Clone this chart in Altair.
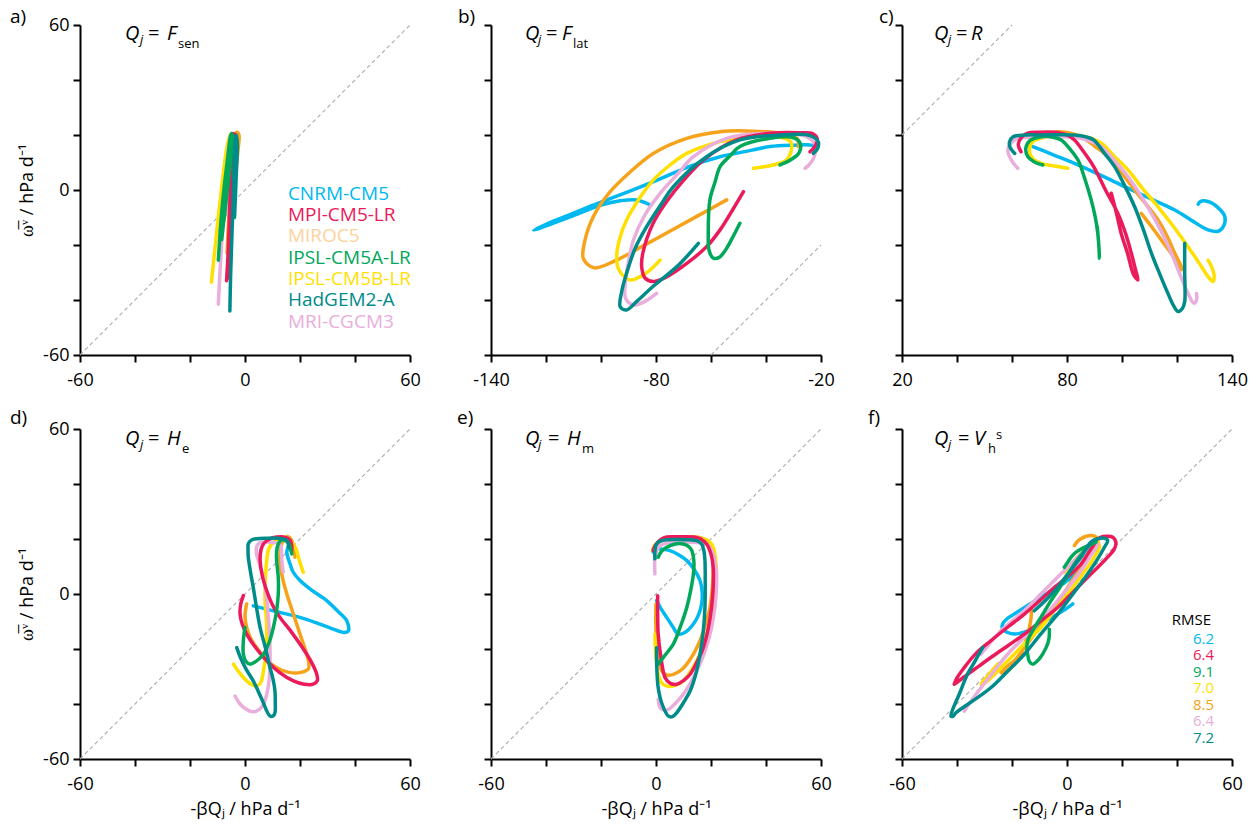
import json
import altair as alt
import pandas as pd

FONT = "Open Sans"

MODELS = ["CNRM-CM5", "MPI-CM5-LR", "MIROC5", "IPSL-CM5A-LR", "IPSL-CM5B-LR", "HadGEM2-A", "MRI-CGCM3"]
LINE_COLORS = {"CNRM-CM5": "#00B9F1", "MPI-CM5-LR": "#EB1B5B", "MIROC5": "#F7A21B",
               "IPSL-CM5A-LR": "#00A859", "IPSL-CM5B-LR": "#FFE000", "HadGEM2-A": "#008B8B",
               "MRI-CGCM3": "#E9AEDB"}
LEGEND_COLORS = ["#00B9F1", "#EB1B5B", "#FDD29A", "#00A859", "#FFE000", "#008B8B", "#E9AEDB"]
DRAW_ORDER = ["CNRM-CM5", "MIROC5", "IPSL-CM5B-LR", "MRI-CGCM3", "MPI-CM5-LR", "IPSL-CM5A-LR", "HadGEM2-A"]
RMSE_VALUES = ["6.2", "6.4", "9.1", "7.0", "8.5", "6.4", "7.2"]
RMSE_COLORS = ["#00B9F1", "#EB1B5B", "#00A859", "#FFE000", "#F7A21B", "#E9AEDB", "#008B8B"]

# ---------------- panel a: Q_j = F_sen ----------------
A_CURVES = {
    "CNRM-CM5": [(-9.5, -14.5), (-8, -5), (-6.5, 5), (-5, 15), (-4, 20), (-3.5, 18), (-4.5, 8), (-6, -3), (-8, -12)],
    "MIROC5": [(-6.5, -23), (-6, -12), (-5, 2), (-4, 14), (-3, 21), (-2.2, 20), (-2.5, 15), (-3.5, 5), (-5, -10)],
    "IPSL-CM5B-LR": [(-12.2, -33.5), (-11, -22), (-9.5, -8), (-8, 5), (-6.5, 16), (-5.2, 20.5), (-4.5, 19), (-5.5, 10), (-7, -3), (-9, -16)],
    "MRI-CGCM3": [(-9.7, -41.5), (-9, -28), (-8, -12), (-7, 2), (-6, 15), (-5, 20.5), (-4.5, 19), (-5.5, 8), (-7, -8)],
    "MPI-CM5-LR": [(-6.7, -33), (-6, -20), (-5.5, -5), (-5, 10), (-4.5, 20.5), (-3.5, 20), (-4, 8), (-4.8, -10), (-5.5, -25), (-6.2, -32)],
    "IPSL-CM5A-LR": [(-9.7, -25.5), (-9, -15), (-8, -3), (-6.5, 10), (-5, 20.5), (-4.5, 19), (-5.5, 8), (-7, -5), (-8.5, -18)],
    "HadGEM2-A": [(-5.5, -44), (-5.2, -30), (-4.6, -12), (-4.1, 5), (-3.6, 17), (-3.2, 20), (-2.8, 17), (-3.2, 5), (-3.8, -10)],
}

# ---------------- panel b: Q_j = F_lat ----------------
B_CURVES = {
    "CNRM-CM5": [(-82, -5.5), (-87, -3.6), (-93, -3.9), (-100, -5.5), (-110, -9.3), (-118, -12.3), (-124.5, -14.6),
                 (-119, -12), (-110, -8.4), (-100, -4.4), (-90, -0.6), (-80, 3.4), (-68, 8.5), (-56.7, 12.1),
                 (-45, 14.5), (-38.5, 15.8), (-30, 16.3), (-24, 16.4), (-21.5, 15.6), (-22.5, 14.3)],
    "MIROC5": [(-54.3, -3.6), (-65, -9.5), (-75, -15), (-85, -20.5), (-95, -25.8), (-102.5, -28.3), (-106.4, -25),
               (-106, -19), (-102.8, -9.7), (-97, -1), (-90, 6), (-81, 13.3), (-68.8, 18.8), (-56.7, 21.2),
               (-44.6, 21.4), (-32.5, 20.3), (-28.5, 18.5), (-28.2, 15.8)],
    "IPSL-CM5B-LR": [(-78.5, -25.5), (-84, -30.5), (-89.5, -32.7), (-93.5, -29), (-94.3, -24), (-93, -17),
                     (-90.7, -10.9), (-86, -3), (-81, 3.6), (-75, 9), (-68.8, 13.3), (-56.7, 17.6), (-44.6, 19.4),
                     (-34, 19), (-31, 17.5), (-30.7, 15), (-32.5, 11), (-37, 9.2), (-44.6, 7.9)],
    "MRI-CGCM3": [(-79.8, -37.6), (-84, -40.5), (-88.2, -41.8), (-91, -39.5), (-91.3, -35), (-90, -26),
                  (-88.2, -18.2), (-84, -9), (-78.5, -1.2), (-72, 6), (-66.4, 12.1), (-54.3, 18.8), (-38.5, 20.6),
                  (-25.2, 19.4), (-22.2, 16.5), (-22.5, 12), (-24.5, 9), (-25.8, 7.9)],
    "MPI-CM5-LR": [(-48.2, -0.6), (-52, -7), (-56.7, -14.5), (-61.6, -20.6), (-68.8, -26.7), (-76, -31.5),
                   (-81, -33.3), (-84, -32), (-85.2, -28), (-84.8, -23), (-81, -12), (-76, -4), (-70, 3.5),
                   (-62.8, 10.9), (-50.7, 18.2), (-38.5, 20.6), (-28, 20.8), (-22.8, 20.4), (-21.3, 18.3),
                   (-22.5, 15.5), (-24, 13.9)],
    "IPSL-CM5A-LR": [(-49.5, -12.1), (-52, -17), (-54.5, -21.5), (-57, -24.5), (-59.1, -24.8), (-60.7, -22),
                     (-61, -16), (-60.4, -3.6), (-58.5, 3), (-56.7, 8.5), (-53, 12.5), (-49.5, 15.8),
                     (-38.5, 18.8), (-30, 19), (-27.6, 17), (-28, 13.5), (-31, 11), (-34.9, 9.1)],
    "HadGEM2-A": [(-64.6, -19.4), (-72, -27.5), (-81, -35), (-87, -40.5), (-90.7, -43.6), (-93, -42.5),
                  (-92.5, -37), (-90.7, -30.3), (-87.5, -21), (-83.4, -13.3), (-78, -5), (-73.7, 1.2),
                  (-61.6, 12.1), (-49.5, 18.2), (-34.9, 20), (-24, 19.8), (-21, 17.5), (-21.3, 15), (-22.8, 13.3)],
}

# ---------------- panel c: Q_j = R ----------------
C_CURVES = {
    "CNRM-CM5": [(67.6, 15.8), (75, 12.8), (82.7, 9.7), (92, 5.5), (101, 1.2), (110, -3), (119.2, -7.3),
                 (126, -11.5), (131.3, -14.5), (135, -15), (137, -13), (137.4, -9.7), (135, -6.5),
                 (131.3, -4.2), (128.5, -4.2), (127.7, -5.2)],
    "MIROC5": [(66.4, 15.8), (67, 18), (70.6, 19.8), (76.7, 21.2), (82, 20.5), (85.2, 19.4), (90, 16),
               (94.9, 12.1), (100, 6), (104.6, 0), (109, -5.5), (113.1, -10.9), (116.5, -17), (119.2, -23),
               (121.4, -27.5), (121.6, -29), (120.4, -27), (117.5, -22.5), (114.3, -18.2), (110.5, -13), (107, -8.5)],
    "IPSL-CM5B-LR": [(80.3, 7.9), (75, 8.8), (70.6, 9.7), (67.5, 11.5), (66.4, 14), (67.6, 17.6), (73, 19.4),
                     (82.7, 20), (88, 19), (92.5, 17), (97, 12.5), (102.2, 7.3), (107.5, 0.5), (113.1, -6.1),
                     (118.5, -13), (124, -20.6), (128, -26.5), (131.3, -31.5), (133.1, -33.3), (133.5, -31),
                     (132.4, -27.5), (131.3, -25.5)],
    "MRI-CGCM3": [(62.1, 7.9), (60, 10.5), (58.5, 14.5), (60.9, 18.2), (66, 19.2), (70.6, 19.3), (82.7, 19.2),
                  (88, 18), (92.5, 15.8), (97.5, 10.5), (102.2, 4.8), (106.5, -1.5), (110.7, -8.5),
                  (114.5, -15.5), (118, -23), (121, -30.5), (124, -37.6), (126.2, -41.2), (127.1, -40),
                  (127.1, -37.6)],
    "MPI-CM5-LR": [(63.3, 13.9), (62.3, 16.5), (63.5, 19.2), (65.5, 20.6), (70, 21), (75.5, 21), (80, 20),
                   (82.7, 18.2), (86, 14), (89.7, 8.5), (94, 0), (98.5, -8.5), (101.2, -15.5), (103.4, -23),
                   (104.8, -28.5), (105.8, -32.7), (105, -32), (104, -30.3), (102, -23), (99.7, -15.8),
                   (98, -8.5), (96.1, -1.2)],
    "IPSL-CM5A-LR": [(71.2, 9.1), (68, 10.3), (65.8, 12.1), (65, 15), (66.5, 18), (70.6, 19.4), (74.5, 19.3),
                     (77.9, 18.2), (81, 15), (84, 10.9), (86.5, 4), (88.8, -3.6), (90.3, -10), (91.2, -15.8),
                     (91.6, -20.5), (91.8, -24.8), (91.5, -19), (91, -13.3)],
    "HadGEM2-A": [(61, 13.3), (59.3, 15.5), (59.1, 17.5), (60.4, 19.4), (65, 20), (70.6, 20), (82.7, 20),
                  (87, 19.3), (89.7, 18.2), (93.5, 13.5), (97.3, 8.5), (101, 1.5), (104.6, -6.1),
                  (107.8, -14.5), (110.7, -23), (113.7, -30.5), (116.7, -37.6), (119, -42.5), (120.4, -44.2),
                  (122, -43), (122.8, -40.6), (122.9, -35), (122.8, -30.3), (122.8, -19.4)],
}

# ---------------- panel d: Q_j = H_e ----------------
D_CURVES = {
    "CNRM-CM5": [(3, -4.3), (11, -6.3), (20, -8.5), (26, -10.5), (32.1, -12.8), (36, -14), (37.6, -13.4),
                 (37, -9.7), (34, -6.5), (29.7, -2.4), (24.5, 1.2), (20, 4.9), (17.5, 8), (16.4, 10.9),
                 (15.2, 15.2), (15.7, 17), (16.4, 18.2)],
    "MIROC5": [(0.6, -3.6), (0, -8), (0.6, -12.2), (2, -16), (4.2, -19.5), (7.5, -23.5), (11.5, -26.8),
               (16, -28.5), (20, -28.6), (23, -27.3), (23.2, -25), (22, -20.5), (20, -14.6), (17.5, -7),
               (15.2, 0), (13.5, 6.5), (12.7, 12.2), (13, 17), (13.9, 19.5), (15.2, 20.9), (16.8, 19.8),
               (17.6, 17), (18.2, 13.4)],
    "IPSL-CM5B-LR": [(-4.2, -25.5), (-2, -28.7), (0.6, -31.6), (2.5, -33), (4.2, -33.5), (5.8, -32), (6.7, -28),
                     (7.5, -23), (7.9, -17), (7.8, -10), (7.3, -2.4), (7.4, 5), (7.9, 12.2), (8.5, 16),
                     (9.7, 18.2), (11.5, 19.3), (13.9, 19.5), (16, 19.2), (17.6, 18.2), (18.8, 15.8),
                     (19.4, 13.4), (20.3, 10.5), (21.2, 7.9)],
    "MRI-CGCM3": [(-3.6, -37.1), (-1.8, -40), (0.6, -42), (2.5, -42.8), (4.2, -42.6), (6.5, -40.5), (7.9, -36.5),
                  (8.8, -31), (9.1, -24.3), (9, -16), (8.5, -8.5), (7.8, -1), (6.7, 6.1), (5.3, 10.8),
                  (4.2, 14.6), (4.2, 17), (4.8, 18.2), (6, 18.8), (7.9, 18.9), (10.5, 18.7), (12.7, 18.2),
                  (13.2, 16.5), (13.3, 14.6), (13.5, 11), (13.9, 7.9)],
    "MPI-CM5-LR": [(-0.6, -0.6), (-1.6, -4), (-1.8, -7.3), (-1, -11), (0.6, -14.6), (3.5, -19), (7.9, -24.3),
                   (12.5, -28.5), (17.6, -31.6), (21.5, -32.8), (24.8, -32.8), (26.3, -31.5), (26.1, -29.2),
                   (24, -24.5), (20, -18.2), (16.5, -13.3), (12.7, -8.5), (10, -4), (7.9, 1.2), (6.2, 7),
                   (5.5, 12.2), (5.8, 16), (6.7, 18.2), (9, 20), (11.5, 20.7), (14, 20.7), (16.4, 19.5),
                   (17, 17.5), (17, 15.8)],
    "IPSL-CM5A-LR": [(0, -12.2), (-0.6, -17), (-0.6, -21.9), (0.3, -24.5), (1.8, -25.5), (4, -24.5), (6.7, -21.9),
                     (8.8, -17.5), (10.3, -12.2), (11.5, -6), (12.1, 0), (12.1, 6), (11.5, 12.2), (11.5, 15.5),
                     (12.1, 18.2), (13.2, 19.6), (14.5, 19.5), (16, 18.3), (16.4, 17), (17, 14.6)],
    "HadGEM2-A": [(-3, -19.5), (-1.5, -23.5), (0.5, -27.5), (3, -31.6), (6, -38), (9.1, -44.4), (10.3, -44.3),
                  (10.9, -43.2), (11, -39), (10.9, -35.3), (10.2, -31), (9.1, -26.8), (7.4, -19.5), (5.5, -12.2),
                  (4.2, -5), (3, 2.4), (2, 8), (1.2, 13.4), (1.1, 16.5), (1.2, 18.2), (2.3, 19.6), (4.2, 20.1),
                  (8, 20.3), (11.5, 20.3), (13.8, 20), (15.2, 19.5), (15.7, 18.3), (15.8, 17)],
}

# ---------------- panel e: Q_j = H_m ----------------
E_CURVES = {
    "CNRM-CM5": [(0.2, -2.4), (1.8, -5.3), (3.9, -8.5), (6, -11.7), (8.1, -14.6), (10.5, -14), (13.6, -10.9),
                 (15.5, -7.5), (16.6, -3.6), (16.8, 0.5), (16, 4.9), (14, 8.7), (11.2, 12.2), (8.2, 14.3),
                 (5.1, 15.8), (2.5, 16.3), (0.2, 16.4), (-1, 15.2)],
    "MIROC5": [(0, -3.6), (-0.1, -10), (0.2, -17), (0.9, -23), (2.1, -28), (4, -29.5), (6.3, -29.2), (9, -27.8),
               (11.2, -25.5), (13.8, -21.5), (16, -17), (18, -11), (19.6, -4.9), (20.5, 2.5), (20.8, 9.7),
               (20.5, 14.5), (19.6, 18.2), (17.5, 20), (14.8, 20.7), (10, 20.8), (5.1, 20.7), (2.3, 19.8),
               (0.2, 18.2), (-0.8, 17), (-1.2, 15.8)],
    "IPSL-CM5B-LR": [(-0.4, -14.6), (-0.1, -22), (0.8, -29.2), (2, -32.2), (3.9, -33.5), (7, -33.2), (9.9, -31.6),
                     (13, -27.5), (16, -21.9), (18.3, -15), (20.2, -7.3), (21.4, 0), (22, 7.3), (21.7, 12.5),
                     (20.8, 17), (19.2, 19.2), (17.2, 20.1), (12, 20.4), (6.3, 20.4), (3, 19.8), (0.8, 18.9),
                     (-0.3, 17.8), (-1, 16.4)],
    "MRI-CGCM3": [(-0.4, 7.3), (-0.5, 10.5), (-0.4, 13.4), (0.3, 15.8), (1.5, 17.6), (4.5, 18.6), (8.7, 18.9),
                  (13.5, 18.8), (18.4, 18.2), (20.3, 15.8), (21.4, 12.2), (22, 7.5), (22, 2.4), (21.4, -5),
                  (20.2, -12.2), (18.4, -19), (16, -25.5), (13, -31.5), (9.9, -36.5), (7, -39.8), (4.5, -42),
                  (2.7, -42.2), (1.5, -41.4), (0.8, -38.3)],
    "MPI-CM5-LR": [(0.6, -0.6), (0.6, -7), (0.8, -14.6), (1.8, -23), (3.3, -30.4), (5.2, -32.5), (7.5, -32.8),
                   (10, -31.5), (12.4, -29.2), (15, -24.5), (17.2, -19.5), (19, -12.5), (20.2, -4.9),
                   (20.8, 2.5), (20.8, 9.7), (20, 14.5), (18.4, 18.2), (16.3, 20), (13.6, 20.7), (8.5, 20.8),
                   (3.9, 20.7), (1.8, 19.8), (0.2, 18.2), (-0.6, 17), (-1, 15.8)],
    "IPSL-CM5A-LR": [(0.8, -25.5), (3.5, -22), (6.3, -18.2), (9, -11.5), (11.2, -4.9), (12.6, 1.2), (13.6, 7.3),
                     (13.8, 11.5), (13, 15.8), (11.8, 17.3), (9.9, 18.2), (7, 18.2), (3.9, 17), (2, 15.5),
                     (0.8, 13.4)],
    "HadGEM2-A": [(0.2, -19.5), (0.3, -27), (0.8, -34.1), (2.2, -40), (4.5, -44.4), (6, -44.6), (7.5, -43.2),
                  (10, -39.5), (12.4, -35.3), (14.5, -29), (16, -21.9), (17.2, -13.5), (17.8, -4.9), (17.9, 4),
                  (17.8, 12.2), (17.4, 15.8), (16.6, 18.2), (14.8, 19.4), (12.4, 19.7), (8, 19.8), (3.9, 19.7),
                  (1.6, 19.2), (0.2, 18.2), (-0.4, 15.5), (-0.4, 12.8)],
}

# ---------------- panel f: Q_j = V_h^s ----------------
F_CURVES = {
    "CNRM-CM5": [(2.1, -3.6), (-0.5, -5.5), (-3.4, -7.3), (-9, -10.5), (-14.3, -13.4), (-18.5, -14.5),
                 (-21.6, -14), (-23.5, -12.5), (-23.4, -10.9), (-21.8, -9), (-19.2, -7.3), (-14.5, -4.3),
                 (-9.5, -1.2), (-4.5, 1.8), (0.2, 4.9), (3.5, 8.5), (6.3, 12.2), (7.8, 15), (8.7, 17)],
    "MIROC5": [(-13.1, -3.6), (-13, -8), (-13.7, -12.2), (-15, -17), (-16.7, -21.9), (-19, -25.5), (-21.6, -28),
               (-23, -28.7), (-24, -28.6), (-22, -26.5), (-19.2, -24.3), (-15.5, -19.5), (-11.9, -14.6),
               (-8.2, -9.8), (-4.6, -4.9), (-1, 0.5), (2.7, 6.1), (5.8, 10.4), (8.7, 14.6), (10.3, 17.2),
               (11.2, 19.5), (10.5, 20.8), (8.7, 21.3), (7, 21), (5.1, 20.1), (3.7, 19), (2.7, 17.6)],
    "IPSL-CM5B-LR": [(-25.2, -25.5), (-28.3, -29.2), (-31.3, -32.8), (-30.5, -32.5), (-28.9, -31.6), (-24, -26.8),
                     (-19.2, -21.9), (-14.4, -17), (-9.5, -12.2), (-4.7, -6.1), (0.2, 0), (4, 5), (7.5, 9.7),
                     (10, 13.5), (11.8, 17), (11.6, 18.3), (11.2, 18.9), (9.5, 18.3), (7.5, 17), (5, 14.6),
                     (2.7, 12.2), (0.8, 10), (-1, 7.9)],
    "MRI-CGCM3": [(-37.4, -42.6), (-34.4, -38.3), (-31.3, -34.1), (-26.5, -28), (-21.6, -21.9), (-16.8, -17),
                  (-11.9, -12.2), (-7.6, -7.3), (-3.4, -2.4), (1, 3.1), (5.1, 8.5), (8.3, 13.5), (11.2, 18.2),
                  (10.6, 18.7), (9.9, 18.9), (7.5, 16.8), (5.1, 14.6), (0.3, 9.8), (-4.6, 4.9), (-9.5, 0),
                  (-14.3, -4.9), (-19.2, -9.2), (-24, -13.4), (-27.7, -17.5), (-31.3, -21.9)],
    "MPI-CM5-LR": [(-41, -32.8), (-38.5, -31), (-36.2, -29.2), (-32, -26.2), (-27.7, -23.1), (-21.5, -18.8),
                   (-15.5, -14.6), (-9.5, -9.8), (-3.4, -4.9), (2, 0.5), (7.5, 6.1), (11.5, 10), (14.8, 13.4),
                   (17, 16), (17.8, 18.2), (17.3, 20), (16, 20.9), (14, 21), (12.4, 20.7), (10.5, 19.5),
                   (9.9, 18.2), (7.5, 14.5), (5.1, 10.9), (0.5, 6.5), (-4.6, 2.4), (-10, -2.5), (-15.5, -7.3),
                   (-21.5, -12), (-27.7, -17), (-33, -21.5), (-37.4, -26.8), (-40, -30.5), (-41, -32.8)],
    "IPSL-CM5A-LR": [(-6.4, -12.8), (-6.6, -16.5), (-7.6, -19.5), (-10, -23.5), (-12.5, -25.5), (-13.7, -24.5),
                     (-14.3, -21.9), (-14.6, -19.5), (-14.3, -17), (-12, -12.5), (-9.5, -8.5), (-6.5, -3.5),
                     (-3.4, 1.2), (-0.3, 6), (2.7, 10.9), (5.2, 14.3), (7.5, 17), (9, 18.2), (10.6, 18.9),
                     (8, 17.8), (5.1, 16.4), (3, 15), (1.5, 13.4), (0.2, 11.5), (-1, 9.7)],
    "HadGEM2-A": [(-30.7, -19.5), (-33.5, -24.5), (-36.2, -29.2), (-39, -36), (-42.2, -44.4), (-41.5, -44.5),
                  (-40.4, -43.2), (-34, -38.7), (-27.7, -34.1), (-21.5, -28), (-15.5, -21.9), (-9.5, -14.5),
                  (-3.4, -7.3), (2, -0.2), (7.5, 7.3), (11, 12.5), (13.6, 17), (14.8, 19.5), (13.5, 20.3),
                  (11.2, 20.1), (8.7, 18.9), (5.1, 13.4), (0.8, 8), (-3.4, 2.4), (-7.5, -2), (-11.9, -6.1)],
}

Y_TITLE = "\u03c9\u0305\u1d5b / hPa d\u207b\u00b9"
X_TITLE = "-\u03b2Q\u2c7c / hPa d\u207b\u00b9"

W = 330
H = 330


def make_axis(values, labelled, title, label_pad, title_pad):
    kw = dict(values=values, domainColor="black", domainWidth=2, tickColor="black", tickWidth=2,
              tickSize=7, grid=False, labelFont=FONT, labelFontSize=18, labelColor="black",
              labelFlush=False, labelOverlap=False, labelPadding=label_pad, titleFont=FONT, titleFontSize=18,
              titleColor="black", titleFontWeight="normal", titlePadding=title_pad, title=title)
    if labelled:
        kw["labelExpr"] = "indexof(%s, datum.value) >= 0 ? '' + datum.value : ''" % json.dumps(labelled)
    else:
        kw["labels"] = False
    return alt.Axis(**kw)


def text_layer(txt, px, py, size, italic=False, color="black", align="left", baseline="alphabetic"):
    kw = dict(text=txt, font=FONT, fontSize=size, color=color, align=align, baseline=baseline)
    if italic:
        kw["fontStyle"] = "italic"
    return alt.Chart(pd.DataFrame({"k": [0]})).mark_text(**kw).encode(x=alt.value(px), y=alt.value(py))


def panel(curves, xdom, xlabels, ylabels, xtitle, ytitle, label, label_pos, title_parts, extras=()):
    rows = []
    for m, pts in curves.items():
        for i, (x, y) in enumerate(pts):
            rows.append({"model": m, "i": i, "x": x, "y": y})
    df = pd.DataFrame(rows)
    xs = alt.Scale(domain=xdom, nice=False, zero=False)
    ys = alt.Scale(domain=[-60, 60], nice=False, zero=False)
    xaxis = make_axis(list(range(xdom[0], xdom[1] + 1, 20)), xlabels, xtitle, 9, 7)
    yaxis = make_axis(list(range(-60, 61, 20)), ylabels, ytitle, 4, 6)

    lo = max(xdom[0], -60)
    hi = min(xdom[1], 60)
    diag_df = pd.DataFrame({"x": [lo, hi], "y": [lo, hi]})
    diag = alt.Chart(diag_df).mark_line(color="#ababab", strokeWidth=1.1, strokeDash=[4, 3]).encode(
        x=alt.X("x:Q", scale=xs, axis=xaxis), y=alt.Y("y:Q", scale=ys, axis=yaxis))
    layers = [diag]
    for m in DRAW_ORDER:
        layers.append(
            alt.Chart(df).transform_filter(alt.datum.model == m).mark_line(
                color=LINE_COLORS[m], strokeWidth=3.5, interpolate="catmull-rom",
                strokeCap="round", strokeJoin="round").encode(
                x=alt.X("x:Q", scale=xs), y=alt.Y("y:Q", scale=ys), order="i:Q"))
    layers.append(text_layer(label, label_pos[0], label_pos[1], 19, baseline="middle"))
    for (t, px, py, size, it) in title_parts:
        layers.append(text_layer(t, px, py, size, italic=it))
    layers.extend(extras)
    return alt.layer(*layers).properties(width=W, height=H)


# legend (panel a)
leg_df = pd.DataFrame({"model": MODELS, "i": list(range(len(MODELS)))})
legend_a = alt.Chart(leg_df).transform_calculate(
    ly="-1.4 - datum.i * 7.75", lx="15.6").mark_text(
    font=FONT, fontSize=19, align="left", baseline="middle").encode(
    x=alt.X("lx:Q"), y=alt.Y("ly:Q"),
    text="model:N",
    color=alt.Color("model:N", scale=alt.Scale(domain=MODELS, range=LEGEND_COLORS), legend=None))

# RMSE (panel f)
rm_df = pd.DataFrame({"v": RMSE_VALUES, "i": list(range(len(RMSE_VALUES))), "c": RMSE_COLORS})
rmse_vals = alt.Chart(rm_df).transform_calculate(
    ly="-16.2 - datum.i * 6.0", lx="53.5").mark_text(
    font=FONT, fontSize=15, align="right", baseline="middle").encode(
    x=alt.X("lx:Q"), y=alt.Y("ly:Q"), text="v:N",
    color=alt.Color("c:N", scale=None, legend=None))
rmse_head = alt.Chart(pd.DataFrame({"t": ["RMSE"], "lx": [52.4], "ly": [-9.6]})).mark_text(
    font=FONT, fontSize=15, align="right", baseline="middle", color="black").encode(
    x=alt.X("lx:Q"), y=alt.Y("ly:Q"), text="t:N")

TA = [("Q", 45, 15, 20, True), ("j", 60, 19, 13, True), ("=", 68, 15, 20, False),
      ("F", 87, 15, 20, True), ("sen", 98, 23, 13, False)]
TB = [("Q", 34, 15, 20, True), ("j", 47, 19, 13, True), ("=", 55, 15, 20, False),
      ("F", 71, 15, 20, True), ("lat", 82, 23, 13, False)]
TC = [("Q", 32, 15, 20, True), ("j", 46, 19, 13, True), ("=", 54, 15, 20, False),
      ("R", 69, 15, 20, True)]
TD = [("Q", 45, 16, 20, True), ("j", 60, 20, 13, True), ("=", 68, 16, 20, False),
      ("H", 87, 16, 20, True), ("e", 102, 24, 13, False)]
TE = [("Q", 34, 16, 20, True), ("j", 47, 20, 13, True), ("=", 57, 16, 20, False),
      ("H", 76, 16, 20, True), ("m", 91, 24, 13, False)]
TF = [("Q", 32, 16, 20, True), ("j", 46, 20, 13, True), ("=", 56, 16, 20, False),
      ("V", 72, 16, 20, True), ("h", 86, 24, 13, False), ("s", 94, 10, 13, False)]

pa = panel(A_CURVES, [-60, 60], [-60, 0, 60], [-60, 0, 60], None, Y_TITLE, "a)", (-70, -8), TA, [legend_a])
pb = panel(B_CURVES, [-140, -20], [-140, -80, -20], [], None, None, "b)", (-33, -8), TB)
pc = panel(C_CURVES, [20, 140], [20, 80, 140], [], None, None, "c)", (-23, -8), TC)
pd_ = panel(D_CURVES, [-60, 60], [-60, 0, 60], [-60, 0, 60], X_TITLE, Y_TITLE, "d)", (-70, -11), TD)
pe = panel(E_CURVES, [-60, 60], [-60, 0, 60], [], X_TITLE, None, "e)", (-34, -11), TE)
pf = panel(F_CURVES, [-60, 60], [-60, 0, 60], [], X_TITLE, None, "f)", (-34, -11), TF,
           [rmse_head, rmse_vals])

chart = alt.concat(pa, pb, pc, pd_, pe, pf, columns=3, spacing=alt.RowColnumber(row=74, column=81),
                   bounds="flush").properties(
    padding={"left": 10, "top": 8, "right": 5, "bottom": 5},
).configure_view(stroke=None)

chart.save("out.html", embed_options={"renderer": "svg", "actions": False})
